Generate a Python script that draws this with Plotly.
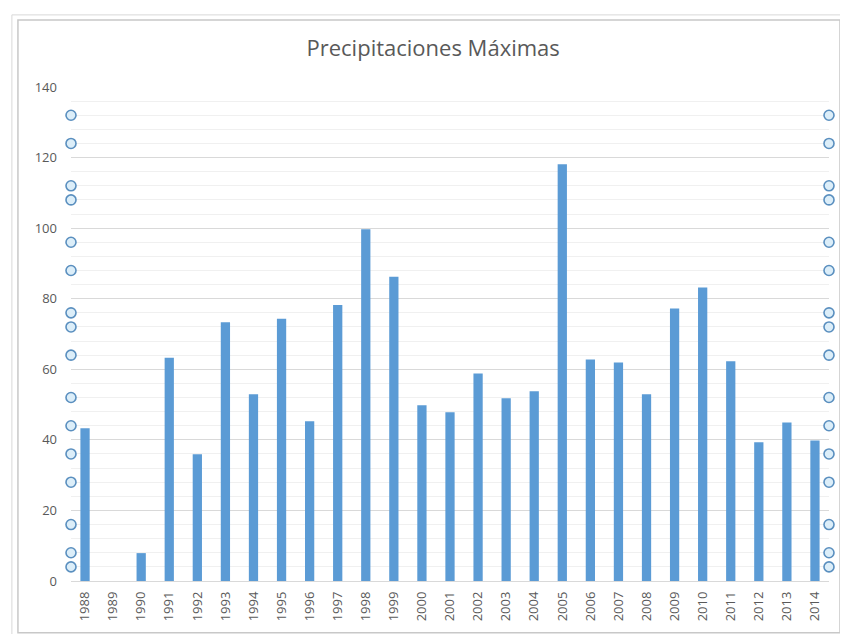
import plotly.graph_objects as go

years = list(range(1988, 2015))
precip = [43.3, 0, 7.9, 63.3, 35.9, 73.3, 52.9, 74.3, 45.3, 78.2,
          99.7, 86.2, 49.8, 47.8, 58.8, 51.8, 53.8, 118.1, 62.8, 61.9,
          52.9, 77.2, 83.2, 62.3, 39.3, 44.9, 39.8]
marker_levels = [132, 124, 112, 108, 96, 88, 76, 72, 64, 52, 44, 36, 28, 16, 8, 4]
y_ticks = [0, 20, 40, 60, 80, 100, 120, 140]
title_text = "Precipitaciones Máximas"

fig = go.Figure()
fig.add_trace(go.Bar(
    x=years, y=precip, marker=dict(color="#5b9bd5", line=dict(width=0)),
    width=0.33, showlegend=False, hoverinfo="x+y"))

for xe in (years[0] - 0.5, years[-1] + 0.5):
    fig.add_trace(go.Scatter(
        x=[xe] * len(marker_levels), y=marker_levels, mode="markers",
        marker=dict(symbol="circle", size=10, color="#dceef9",
                    line=dict(color="#5a8fbf", width=1.6)),
        cliponaxis=False, showlegend=False, hoverinfo="skip"))

fig.update_layout(
    width=832, height=626,
    margin=dict(l=63, r=11, t=79, b=53),
    paper_bgcolor="white", plot_bgcolor="white",
    title=dict(text=title_text, x=0.511, xanchor="center", y=0.936, yanchor="middle",
               font=dict(family="Open Sans", size=22, color="#595959")),
    font=dict(family="Open Sans", size=13, color="#595959"),
    xaxis=dict(range=[years[0] - 0.5, years[-1] + 0.5], tickvals=years,
               ticktext=[str(y) for y in years], tickangle=-90,
               showgrid=False, zeroline=False, showline=False, ticks="",
               ticklabelstandoff=7, tickfont=dict(size=13, color="#595959")),
    yaxis=dict(range=[0, 140], tickvals=y_ticks, showgrid=True, gridcolor="#d9d9d9",
               gridwidth=1, zeroline=True, zerolinecolor="#d9d9d9", zerolinewidth=1,
               showline=False, ticks="", ticklabelstandoff=13,
               minor=dict(dtick=4, showgrid=True, gridcolor="#f0f0f0", gridwidth=1),
               tickfont=dict(size=13, color="#595959")),
    shapes=[
        dict(type="rect", xref="paper", yref="paper", layer="below",
             x0=-0.070, x1=1.0145, y0=-0.105, y1=1.1356,
             line=dict(color="#c8c8c8", width=1.5)),
        dict(type="rect", xref="paper", yref="paper", layer="below",
             x0=-0.078, x1=1.022, y0=-0.11, y1=1.146,
             line=dict(color="#d8d8d8", width=1)),
    ],
)

fig.write_html("out.html")
